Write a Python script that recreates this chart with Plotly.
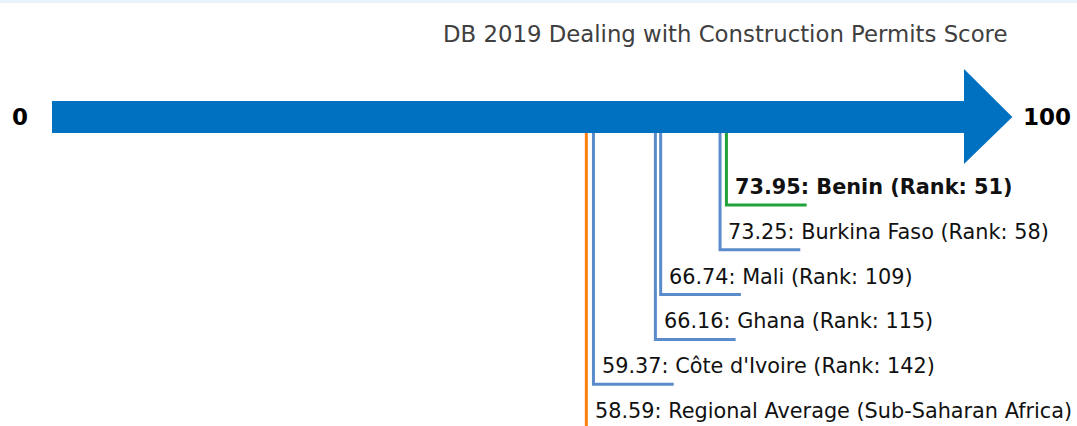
import plotly.graph_objects as go

# ---- data ----
names = ["Benin", "Burkina Faso", "Mali", "Ghana", "Côte d'Ivoire", "Regional Average (Sub-Saharan Africa)"]
scores = [73.95, 73.25, 66.74, 66.16, 59.37, 58.59]
ranks = [51, 58, 109, 115, 142, None]
kinds = ["focus", "peer", "peer", "peer", "peer", "regional"]
title_text = "DB 2019 Dealing with Construction Permits Score"
axis_min, axis_max = 0, 100

# ---- style ----
W, H = 1077, 426
FONT = "DejaVu Sans"
ARROW = "#0070c0"
COLORS = {"focus": "#22a33a", "peer": "#5b8bcb", "regional": "#ff7f0e"}
px_per_unit = 9.12
x0_px = 52
body_top, body_bot = 101, 133
head_top, head_bot, head_len = 69, 164, 5.3
level0, step = 205, 44.8
hlen = 8.8

x_lo = -x0_px / px_per_unit
x_hi = (W - x0_px) / px_per_unit

shapes = []
annotations = []

# top strip
shapes.append(dict(type="rect", xref="paper", yref="paper", x0=0, x1=1, y0=1 - 3 / H, y1=1,
                   fillcolor="#e6f2fc", line=dict(width=0), layer="below"))

for i, (n, s, r, k) in enumerate(zip(names, scores, ranks, kinds)):
    lvl = level0 + step * i
    col = COLORS[k]
    if k == "regional":
        shapes.append(dict(type="line", x0=s, x1=s, y0=body_top + 16, y1=H + 5,
                           line=dict(color=col, width=3)))
        label = f"{s:.2f}: {n}"
    else:
        shapes.append(dict(type="path",
                           path=f"M {s} {body_top + 16} L {s} {lvl} L {s + hlen} {lvl}",
                           line=dict(color=col, width=3)))
        label = f"{s:.2f}: {n} (Rank: {r})"
    if k == "focus":
        label = f"<b>{label}</b>"
    annotations.append(dict(x=s + 0.7, y=lvl - 18, text=label, showarrow=False,
                            xanchor="left", yanchor="middle",
                            font=dict(family=FONT, size=20.8, color="#111")))

# arrow
shapes.append(dict(type="path",
                   path=(f"M {axis_min} {body_top} L {axis_max} {body_top} L {axis_max} {head_top} "
                         f"L {axis_max + head_len} {(body_top + body_bot) / 2} L {axis_max} {head_bot} "
                         f"L {axis_max} {body_bot} L {axis_min} {body_bot} Z"),
                   fillcolor=ARROW, line=dict(width=0), layer="above"))

annotations.append(dict(x=axis_min - 2.4, y=(body_top + body_bot) / 2, text=f"<b>{axis_min}</b>",
                        showarrow=False, xanchor="right", yanchor="middle",
                        font=dict(family=FONT, size=23, color="#000")))
annotations.append(dict(x=axis_max + head_len + 1.0, y=(body_top + body_bot) / 2, text=f"<b>{axis_max}</b>",
                        showarrow=False, xanchor="left", yanchor="middle",
                        font=dict(family=FONT, size=23, color="#000")))
annotations.append(dict(x=(441 - x0_px) / px_per_unit, y=34, text=title_text, showarrow=False,
                        xanchor="left", yanchor="middle",
                        font=dict(family=FONT, size=22.8, color="#404040")))

fig = go.Figure()
fig.update_layout(
    width=W, height=H, margin=dict(l=0, r=0, t=0, b=0),
    paper_bgcolor="white", plot_bgcolor="white",
    xaxis=dict(range=[x_lo, x_hi], visible=False, fixedrange=True),
    yaxis=dict(range=[H, 0], visible=False, fixedrange=True),
    shapes=shapes, annotations=annotations, showlegend=False,
)
fig.write_html("out.html", config={"displayModeBar": False},
               post_script="document.body.style.margin='0';document.body.style.overflow='hidden';")
